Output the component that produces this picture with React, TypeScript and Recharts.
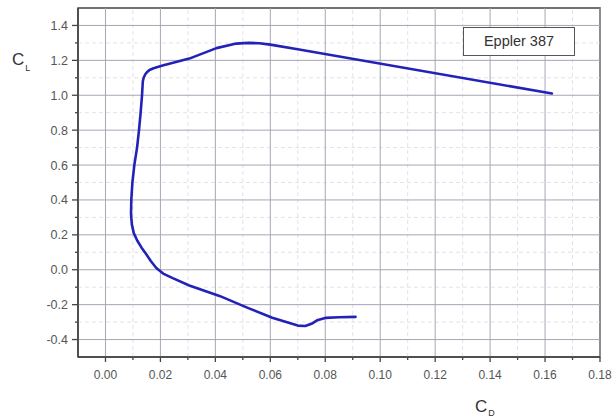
import React from "react";
import {
  LineChart,
  Line,
  XAxis,
  YAxis,
  ReferenceLine,
  ReferenceArea,
} from "recharts";

// drag polar, Eppler 387 (ordered from low to high alpha)
const cd = [
  0.091, 0.085, 0.08, 0.077, 0.075, 0.0727, 0.07, 0.0607, 0.052, 0.0415, 0.0305,
  0.0245, 0.021, 0.0185, 0.0165, 0.0148, 0.0132, 0.0116, 0.0103, 0.0096, 0.0093,
  0.0094, 0.0098, 0.0105, 0.0115, 0.0122, 0.0128, 0.0133, 0.0136, 0.0139,
  0.0145, 0.015, 0.016, 0.0175, 0.0208, 0.0305, 0.0404, 0.0476, 0.052, 0.056,
  0.06, 0.0705, 0.1625,
];
const cl = [
  -0.27, -0.272, -0.276, -0.29, -0.31, -0.322, -0.32, -0.275, -0.22, -0.15,
  -0.09, -0.048, -0.022, 0.01, 0.05, 0.09, 0.125, 0.166, 0.21, 0.26, 0.32, 0.4,
  0.5, 0.6, 0.7, 0.8, 0.9, 1.0, 1.08, 1.1, 1.12, 1.13, 1.145, 1.155, 1.17, 1.21,
  1.27, 1.296, 1.3, 1.298, 1.29, 1.262, 1.01,
];
const seriesName = "Eppler 387";

const xMajor = [0, 0.02, 0.04, 0.06, 0.08, 0.1, 0.12, 0.14, 0.16, 0.18];
const xMinor = [0.01, 0.03, 0.05, 0.07, 0.09, 0.11, 0.13, 0.15, 0.17];
const yMajor = [-0.4, -0.2, 0, 0.2, 0.4, 0.6, 0.8, 1.0, 1.2, 1.4];
const yMinor = [-0.3, -0.1, 0.1, 0.3, 0.5, 0.7, 0.9, 1.1, 1.3];

const xDomain = [-0.01, 0.18];
const yDomain = [-0.5, 1.5];

const data = cd.map((x, i) => ({ cd: x, cl: cl[i] }));

const FONT = "Arial, 'Liberation Sans', sans-serif";
const AXIS = "#444";
const LABEL = "#555";

const isMajor = (v: number, list: number[]) =>
  list.some((m) => Math.abs(m - v) < 1e-6);

function XTick(props: any) {
  const { x, y, payload } = props;
  const major = isMajor(payload.value, xMajor);
  return (
    <g>
      <line x1={x} x2={x} y1={y} y2={y + (major ? 5 : 3)} stroke={AXIS} strokeWidth={1.3} />
      {major && (
        <text x={x} y={y + 22} textAnchor="middle" fill={LABEL} fontSize={12} fontFamily={FONT}>
          {payload.value.toFixed(2)}
        </text>
      )}
    </g>
  );
}

function YTick(props: any) {
  const { x, y, payload } = props;
  const major = isMajor(payload.value, yMajor);
  return (
    <g>
      <line x1={x - (major ? 6 : 3)} x2={x} y1={y} y2={y} stroke={AXIS} strokeWidth={1.3} />
      {major && (
        <text x={x - 10} y={y + 4.5} textAnchor="end" fill={LABEL} fontSize={12.5} fontFamily={FONT}>
          {payload.value.toFixed(1)}
        </text>
      )}
    </g>
  );
}

export default function App() {
  return (
    <div
      style={{
        position: "absolute",
        left: 0,
        top: 0,
        width: 614,
        height: 419,
        background: "#fff",
        fontFamily: FONT,
      }}
    >
      <LineChart
        width={614}
        height={419}
        data={data}
        margin={{ top: 8, right: 14, left: 0, bottom: 0 }}
      >
        {xMinor.map((v) => (
          <ReferenceLine key={"xm" + v} x={v} stroke="#e2e2ea" strokeDasharray="4 3" />
        ))}
        {yMinor.map((v) => (
          <ReferenceLine key={"ym" + v} y={v} stroke="#e2e2ea" strokeDasharray="4 3" />
        ))}
        {xMajor.map((v) => (
          <ReferenceLine key={"xM" + v} x={v} stroke="#a6a6b4" strokeWidth={1} />
        ))}
        {yMajor.map((v) => (
          <ReferenceLine key={"yM" + v} y={v} stroke="#a6a6b4" strokeWidth={1} />
        ))}
        <XAxis
          dataKey="cd"
          type="number"
          domain={xDomain}
          allowDataOverflow
          ticks={[...xMajor, ...xMinor].sort((a, b) => a - b)}
          interval={0}
          height={62}
          tickSize={0}
          tickMargin={0}
          tickLine={false}
          axisLine={{ stroke: AXIS, strokeWidth: 1.5 }}
          tick={XTick}
          label={{
            position: "insideBottom",
            content: () => (
              <text x={475} y={412} fill="#333" fontSize={17} fontFamily={FONT}>
                C
                <tspan fontSize={9} dx={1} dy={4}>
                  D
                </tspan>
              </text>
            ),
          }}
        />
        <YAxis
          dataKey="cl"
          type="number"
          domain={yDomain}
          allowDataOverflow
          ticks={[...yMajor, ...yMinor].sort((a, b) => a - b)}
          interval={0}
          width={78}
          tickSize={0}
          tickMargin={0}
          tickLine={false}
          axisLine={{ stroke: AXIS, strokeWidth: 1.5 }}
          tick={YTick}
          label={{
            position: "insideLeft",
            content: () => (
              <text x={12} y={65} fill="#333" fontSize={17} fontFamily={FONT}>
                C
                <tspan fontSize={9} dx={1} dy={6}>
                  L
                </tspan>
              </text>
            ),
          }}
        />
        <Line
          type="linear"
          dataKey="cl"
          name={seriesName}
          stroke="#2222b8"
          strokeWidth={2.6}
          strokeLinejoin="round"
          strokeLinecap="round"
          dot={false}
          activeDot={false}
          isAnimationActive={false}
        />
        <ReferenceArea
          x1={xDomain[0]}
          x2={xDomain[1]}
          y1={yDomain[0]}
          y2={yDomain[1]}
          fill="none"
          stroke={AXIS}
          strokeWidth={1.5}
          fillOpacity={0}
        />
      </LineChart>
      <div
        style={{
          position: "absolute",
          left: 463,
          top: 27,
          width: 110,
          height: 27,
          border: "1.5px solid #555",
          background: "#fff",
          color: "#333",
          fontSize: 14.5,
          lineHeight: "27px",
          textAlign: "center",
        }}
      >
        {seriesName}
      </div>
    </div>
  );
}
